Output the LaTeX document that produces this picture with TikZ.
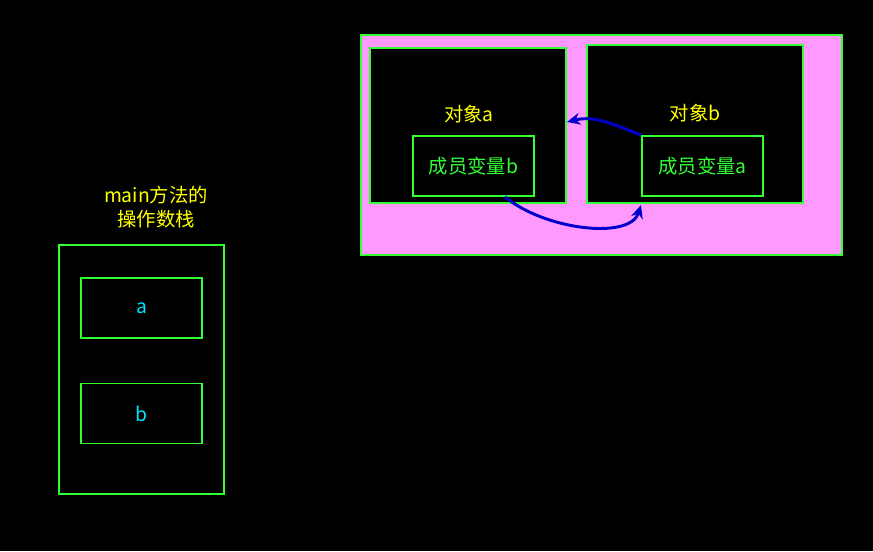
\documentclass[tikz,border=0pt]{standalone}
\usepackage{fontspec}
\setmainfont{Noto Sans CJK SC}
\usetikzlibrary{arrows.meta}
\definecolor{gr}{HTML}{33FF33}
\definecolor{pk}{HTML}{FF99FF}
\definecolor{yl}{HTML}{FFFF00}
\definecolor{cy}{HTML}{00E5FF}
\definecolor{bl}{HTML}{0000CC}
\begin{document}
\begin{tikzpicture}[x=0.75pt,y=-0.75pt,
  box/.style={draw=gr,line width=1.3pt},
  lab/.style={font=\fontsize{14.5}{17}\selectfont},
  cell/.style={box,minimum width=121*0.75pt,minimum height=60*0.75pt,inner sep=0pt,lab},
  conn/.style={draw=bl,line width=2.2pt,-{Stealth[length=10pt,width=9pt]}}]
\fill[black] (0,0) rectangle (873,551);
\useasboundingbox (0,0) rectangle (873,551);
% pink container
\draw[box,fill=pk] (361,35) rectangle (842,255);
\draw[box,fill=black] (370,48) rectangle (566,203);
\draw[box,fill=black] (587,45) rectangle (803,203);
\coordinate (oa) at (567,122);
\coordinate (ob) at (641,205);
\node[lab,text=yl] (ta) at (469,114) {对象a};
\node[lab,text=yl] (tb) at (695,113) {对象b};
\node[cell,text=gr] (mb) at (473.5,166) {成员变量b};
\node[cell,text=gr] (ma) at (702.5,166) {成员变量a};
% stack
\node[lab,text=yl,align=center] (st) at (156,207) {main方法的\\[1pt]操作数栈};
\draw[box] (59,245) rectangle (224,494);
\node[cell,text=cy] (sa) at (141.5,308) {a};
\node[cell,text=cy] (sb) at (141.5,413.5) {b};
% arrows
\draw[conn] (ma.north west) .. controls (615,125) and (595,115) .. (oa);
\draw[conn] ([xshift=23.6pt]mb.south) .. controls (545,230) and (630,240) .. (ob);
\end{tikzpicture}
\end{document}
